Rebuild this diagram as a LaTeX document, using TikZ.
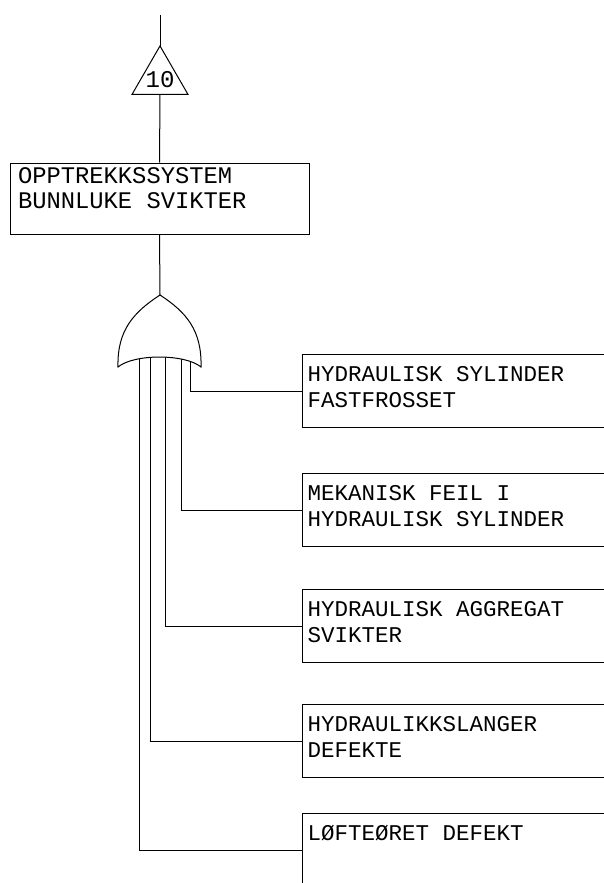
\documentclass[tikz,border=0pt]{standalone}
\usepackage{fontspec}
\setmonofont{Liberation Mono}
\usetikzlibrary{shapes.geometric}
\tikzset{
  eventbox/.style={draw, rectangle, anchor=north west, minimum width=340pt, minimum height=73pt, inner sep=0pt},
  topbox/.style={draw, rectangle, minimum width=299pt, minimum height=71pt, inner sep=0pt},
  eventtext/.style={anchor=north west, inner sep=0pt, align=left, font=\ttfamily\fontsize{22.5}{26}\selectfont},
  toptext/.style={anchor=north west, inner sep=0pt, align=left, font=\ttfamily\fontsize{23.8}{25}\selectfont},
  transfer/.style={draw, regular polygon, regular polygon sides=3, minimum size=64.7pt, inner sep=0pt, outer sep=0pt},
  transfernum/.style={inner sep=0pt, font=\ttfamily\fontsize{24}{24}\selectfont}
}
\begin{document}
\begin{tikzpicture}[x=1pt, y=1pt, line width=1pt]
\useasboundingbox (0,0) rectangle (604,-883);
\clip (0,0) rectangle (604,-883);

%TRANSFER IN
\coordinate (top) at (160,-15);
\node [transfer, label={[transfernum, yshift=-1pt]center:10}] (t10) at (160,-78.3) {};
\draw (top) -- (t10.corner 1);

%TOP EVENT
\node [topbox] (sys) at (159.5,-198.5) {};
\node [toptext, xshift=8pt, yshift=-5pt] (systext) at (sys.north west) {OPPTREKKSSYSTEM\\BUNNLUKE SVIKTER};
\draw (t10.side 2) -- (sys.north);

%OR GATE INPUTS
\coordinate (gtop) at (160,-295);
\coordinate (in1) at (190,-357);
\coordinate (in2) at (181,-357);
\coordinate (in3) at (165,-357);
\coordinate (in4) at (150,-357);
\coordinate (in5) at (139,-357);
\draw (sys.south) -- (gtop);

%BASIC EVENTS
\node [eventbox] (e1) at (302,-354) {};
\node [eventbox] (e2) at (302,-473) {};
\node [eventbox] (e3) at (302,-589) {};
\node [eventbox] (e4) at (302,-704) {};
\node [eventbox] (e5) at (302,-813) {};

\node [eventtext, xshift=5pt, yshift=-11.5pt] (t1) at (e1.north west) {HYDRAULISK SYLINDER\\FASTFROSSET};
\node [eventtext, xshift=5pt, yshift=-11.5pt] (t2) at (e2.north west) {MEKANISK FEIL I\\HYDRAULISK SYLINDER};
\node [eventtext, xshift=5pt, yshift=-11.5pt] (t3) at (e3.north west) {HYDRAULISK AGGREGAT\\SVIKTER};
\node [eventtext, xshift=5pt, yshift=-11.5pt] (t4) at (e4.north west) {HYDRAULIKKSLANGER\\DEFEKTE};
\node [eventtext, xshift=5pt, yshift=-11.5pt] (t5) at (e5.north west) {LØFTEØRET DEFEKT};

\draw (in1) |- (e1.west);
\draw (in2) |- (e2.west);
\draw (in3) |- (e3.west);
\draw (in4) |- (e4.west);
\draw (in5) |- (e5.west);

%OR GATE
\draw [fill=white] (118,-367) .. controls (117,-330) and (134,-312) .. (gtop)
  .. controls (186,-312) and (202,-330) .. (201,-367)
  .. controls (185,-353.7) and (134,-353.7) .. cycle;

\end{tikzpicture}
\end{document}
